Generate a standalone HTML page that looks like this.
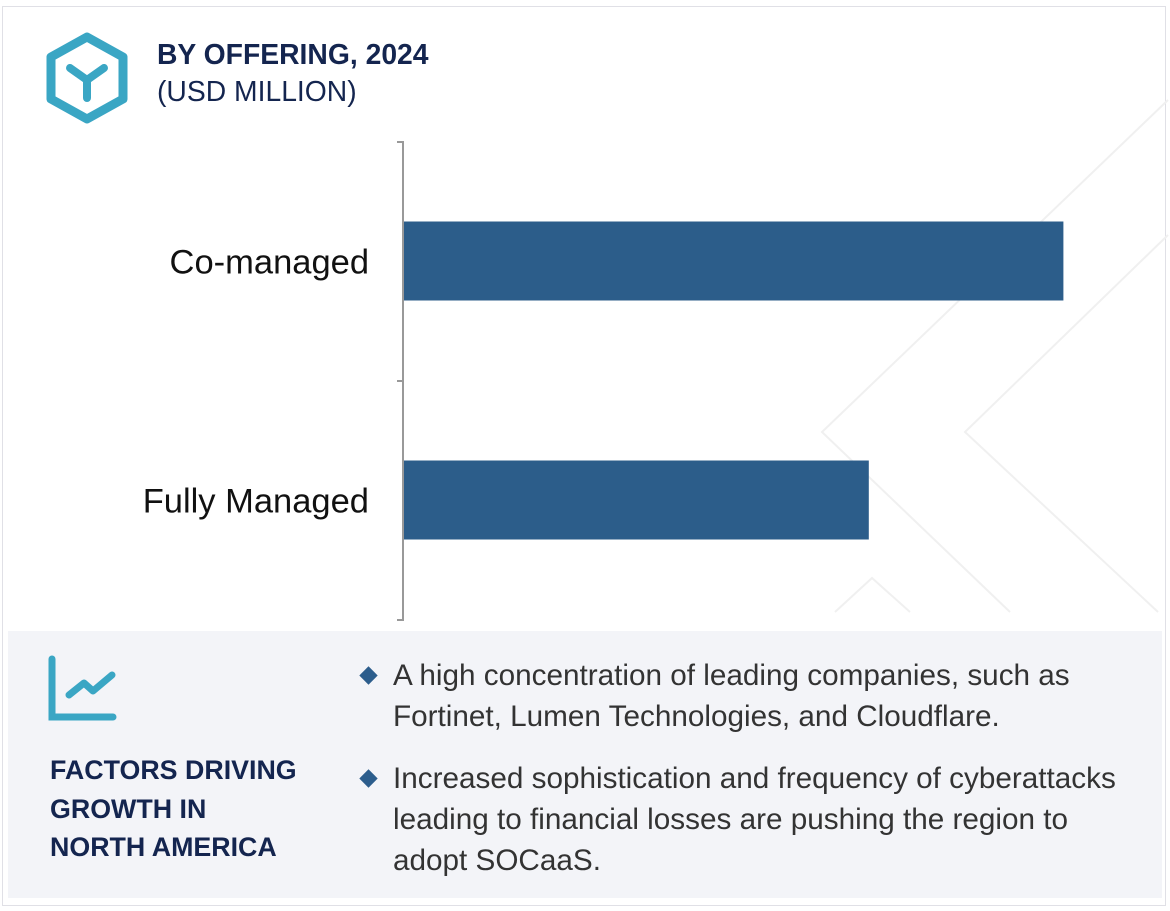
<!DOCTYPE html>
<html><head><meta charset="utf-8"><style>
body{margin:0;width:1170px;height:911px;background:#fff;overflow:hidden;font-family:"Liberation Sans",sans-serif;position:relative}
.abs{position:absolute}
</style></head><body>
<div class="abs" style="left:2px;top:6px;width:1164px;height:900px;border:1px solid #e0e0e6;box-sizing:border-box"></div>
<svg class="abs" style="left:0;top:0" width="1170" height="911">
<g fill="none" stroke="#f0f0f0" stroke-width="2">
<polyline points="1168,100 822,432 1010,612"/>
<polyline points="1168,235 965,432 1158,612"/>
<polyline points="835,612 872,578 910,612"/>
</g>
</svg>
<svg class="abs" style="left:44px;top:32px" width="86" height="92">
<polygon points="43,5 79,25 79,67 43,87 7,67 7,25" fill="none" stroke="#3aa6c4" stroke-width="9" stroke-linejoin="round"/>
<path d="M26,36 L43,48 L60,36 M43,48 L43,66" fill="none" stroke="#3aa6c4" stroke-width="8" stroke-linecap="round"/>
</svg>
<div class="abs" style="left:157px;top:38px;font-size:28.3px;font-weight:bold;color:#14254f">BY OFFERING, 2024</div>
<div class="abs" style="left:157px;top:75px;font-size:28.3px;color:#14254f">(USD MILLION)</div>
<svg class="abs" style="left:0;top:0" width="1170" height="640" id="chart"></svg>
<div class="abs" style="left:8px;top:631px;width:1154px;height:267px;background:#f3f4f8"></div>
<svg class="abs" style="left:46px;top:655px" width="72" height="70">
<path d="M6,4 L6,62 L67,62" fill="none" stroke="#3aa6c4" stroke-width="7" stroke-linecap="round"/>
<path d="M23,40 L38,28 L47,36 L66,20" fill="none" stroke="#3aa6c4" stroke-width="7" stroke-linecap="round" stroke-linejoin="round"/>
</svg>
<div class="abs" style="left:50px;top:751px;font-size:26.8px;font-weight:bold;line-height:38.5px;color:#14254f">FACTORS DRIVING<br>GROWTH IN<br>NORTH AMERICA</div>
<div class="abs" style="left:362px;top:669px;width:13px;height:13px;background:#2c5d8c;transform:rotate(45deg)"></div>
<div class="abs" style="left:393px;top:655px;font-size:29.7px;line-height:41px;color:#333">A high concentration of leading companies, such as<br>Fortinet, Lumen Technologies, and Cloudflare.</div>
<div class="abs" style="left:362px;top:772px;width:13px;height:13px;background:#2c5d8c;transform:rotate(45deg)"></div>
<div class="abs" style="left:393px;top:758px;font-size:29.7px;line-height:41px;color:#333">Increased sophistication and frequency of cyberattacks<br>leading to financial losses are pushing the region to<br>adopt SOCaaS.</div>
<script>
const categories = ["Co-managed", "Fully Managed"];
const values = [942, 664];
const svg = document.getElementById('chart');
const NS = 'http://www.w3.org/2000/svg';
const x0 = 404, pxPerUnit = 700 / 1000;
const xScale = v => x0 + v * pxPerUnit;
const bandTop = 142, bandH = 239;
const yBand = i => bandTop + i * bandH;
function mk(tag, attrs){const e=document.createElementNS(NS,tag);for(const k in attrs)e.setAttribute(k,attrs[k]);svg.appendChild(e);return e;}
const axis = mk('path',{d:`M397,${bandTop} L403,${bandTop} L403,${bandTop+bandH*categories.length} L397,${bandTop+bandH*categories.length} M397,${bandTop+bandH} L403,${bandTop+bandH}`,fill:'none',stroke:'#999','stroke-width':2});


categories.forEach((c,i)=>{
  const yc = yBand(i) + bandH/2;
  const r = mk('rect',{x:x0,y:yc-40,width:xScale(values[i])-x0,height:79,fill:'#2c5d8a'});
  
  
  const t = mk('text',{x:369,y:yc+12,'text-anchor':'end','font-size':34.5,fill:'#111','font-family':'Liberation Sans, sans-serif'});
  t.textContent = c;
  
  
});
</script>
</body></html>
